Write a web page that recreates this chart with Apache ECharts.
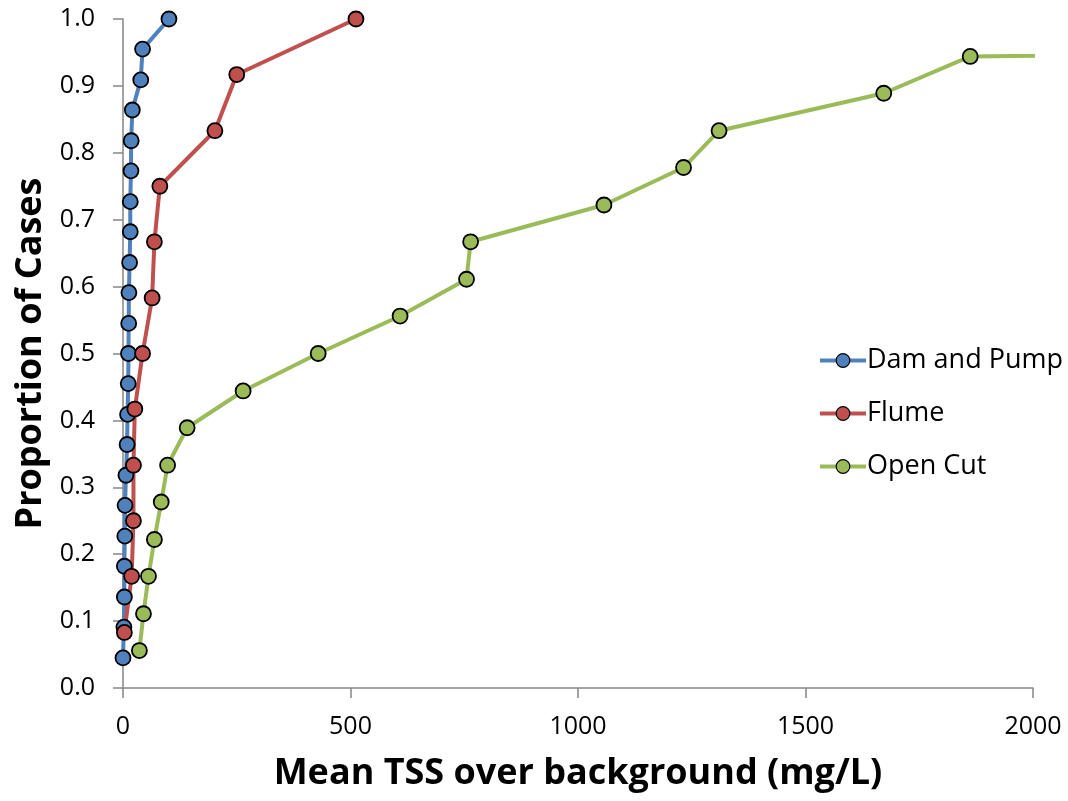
<!DOCTYPE html>
<html>
<head>
<meta charset="utf-8">
<script src="https://cdn.jsdelivr.net/npm/echarts@6/dist/echarts.min.js"></script>
<style>
  html, body { margin: 0; padding: 0; background: #fff; }
  #main { width: 1068px; height: 801px; }
</style>
</head>
<body>
<div id="main"></div>
<script>
// cumulative proportion of cases vs mean TSS over background
const damPumpTss = [0, 2, 3, 3, 4, 4.5, 6.5, 9, 10, 11.5, 12, 12.5, 13, 14.5, 16, 16, 17.5, 18, 20.5, 39, 43, 101]
const damPumpProp = [0.045, 0.091, 0.136, 0.182, 0.227, 0.273, 0.318, 0.364, 0.409, 0.455, 0.5,
  0.545, 0.591, 0.636, 0.682, 0.727, 0.773, 0.818, 0.864, 0.909, 0.955, 1.0]

const flumeTss = [3, 19, 23, 23, 26, 43, 64, 69, 81, 202, 250, 512]
const flumeProp = [0.083, 0.167, 0.25, 0.333, 0.417, 0.5, 0.583, 0.667, 0.75, 0.833, 0.917, 1.0]

// last case lies off the right edge of the chart
const openCutTss = [36, 45, 56, 69, 84, 98, 141, 264, 429, 609, 755, 764, 1057, 1232, 1310, 1672, 1862, 9000]
const openCutProp = [0.056, 0.111, 0.167, 0.222, 0.278, 0.333, 0.389, 0.444, 0.5, 0.556, 0.611,
  0.667, 0.722, 0.778, 0.833, 0.889, 0.944, 1.0]

const yTicks = ['0.0', '0.1', '0.2', '0.3', '0.4', '0.5', '0.6', '0.7', '0.8', '0.9', '1.0']

const font = '"Open Sans", sans-serif'
const axisGrey = '#868686'

function pairs(xs, ys) {
  return xs.map((x, i) => [x, ys[i]])
}

function makeSeries(name, color, xs, ys) {
  return {
    name: name,
    type: 'line',
    data: pairs(xs, ys),
    symbol: 'circle',
    symbolSize: 15,
    clip: true,
    lineStyle: { color: color, width: 4 },
    itemStyle: { color: color, borderColor: '#000', borderWidth: 1.8 },
    emphasis: { disabled: true },
    animation: false
  }
}

const chart = echarts.init(document.getElementById('main'))

const option = {
  animation: false,
  grid: {
    left: 123,
    right: 35,
    top: 19,
    bottom: 113,
    containLabel: false
  },
  legend: {
    orient: 'vertical',
    left: 813,
    top: 342,
    itemWidth: 46,
    itemHeight: 17,
    itemGap: 26,
    lineStyle: { width: 4 },
    itemStyle: { borderWidth: 1.2 },
    textStyle: { fontFamily: font, fontSize: 27, color: '#000', padding: [0, 0, 0, -4] },
    data: ['Dam and Pump', 'Flume', 'Open Cut']
  },
  xAxis: {
    type: 'value',
    min: 0,
    max: 2000,
    interval: 500,
    name: 'Mean TSS over background (mg/L)',
    nameLocation: 'middle',
    nameGap: 68,
    nameTextStyle: { fontFamily: font, fontSize: 36, fontWeight: 'bold', color: '#000' },
    axisLine: { lineStyle: { color: axisGrey, width: 1.5 } },
    axisTick: { show: true, length: 10, lineStyle: { color: axisGrey, width: 1.5 } },
    axisLabel: { fontFamily: font, fontSize: 25, color: '#000', margin: 26, formatter: v => String(v) },
    splitLine: { show: false }
  },
  yAxis: {
    type: 'value',
    min: 0,
    max: 1,
    interval: 0.1,
    name: 'Proportion of Cases',
    nameLocation: 'middle',
    nameGap: 74,
    nameTextStyle: { fontFamily: font, fontSize: 36, fontWeight: 'bold', color: '#000' },
    axisLine: { show: true, lineStyle: { color: axisGrey, width: 1.5 } },
    axisTick: { show: true, length: 10, lineStyle: { color: axisGrey, width: 1.5 } },
    axisLabel: {
      fontFamily: font,
      fontSize: 25,
      color: '#000',
      margin: 28,
      formatter: v => yTicks[Math.round(v * 10)]
    },
    splitLine: { show: false }
  },
  series: [
    makeSeries('Dam and Pump', '#4F81BD', damPumpTss, damPumpProp),
    makeSeries('Flume', '#C0504D', flumeTss, flumeProp),
    makeSeries('Open Cut', '#9BBB59', openCutTss, openCutProp)
  ]
}

chart.setOption(option)
</script>
</body>
</html>
